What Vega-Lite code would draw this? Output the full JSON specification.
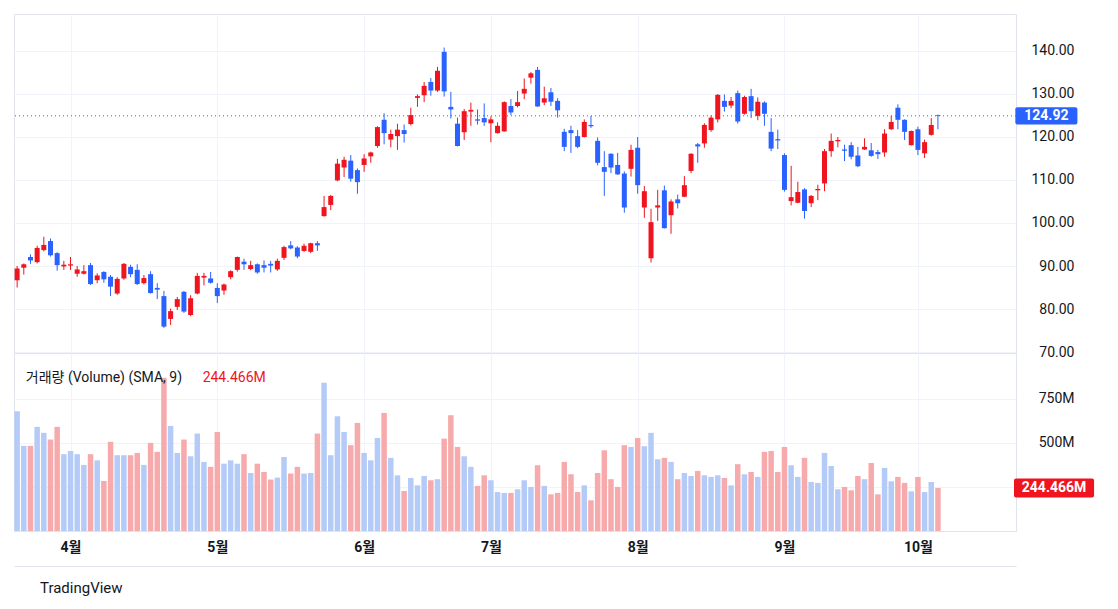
{
  "$schema": "https://vega.github.io/schema/vega-lite/v6.json",
  "padding": {"left": 13, "top": 13, "right": 0, "bottom": 0},
  "background": "white",
  "bounds": "flush",
  "spacing": 0,
  "config": {
    "font": "Roboto, Noto Sans CJK KR, sans-serif",
    "view": {"stroke": "#e0e3eb"},
    "axis": {"gridColor": "#f0f3fa", "labelColor": "#131722", "labelFontSize": 14, "ticks": false, "domain": false, "title": null, "labelFont": "Roboto, Noto Sans CJK KR, sans-serif"}
  },
  "title": {"text": "TradingView", "orient": "bottom", "anchor": "start", "offset": 14, "fontSize": 15, "fontWeight": "normal", "color": "#131722", "dx": 27, "font": "Roboto, sans-serif"},
  "datasets": {
    "ohlc": [
      {"i":0,"o":86.7,"h":90.0,"l":85.0,"c":89.4,"v":680},
      {"i":1,"o":89.6,"h":90.6,"l":88.0,"c":90.4,"v":483},
      {"i":2,"o":92.1,"h":92.7,"l":90.5,"c":91.3,"v":483},
      {"i":3,"o":90.9,"h":94.7,"l":90.6,"c":94.2,"v":591},
      {"i":4,"o":93.7,"h":96.8,"l":93.4,"c":94.9,"v":557},
      {"i":5,"o":95.8,"h":96.4,"l":92.2,"c":92.5,"v":519},
      {"i":6,"o":93.0,"h":93.2,"l":88.9,"c":90.2,"v":591},
      {"i":7,"o":89.9,"h":91.2,"l":89.1,"c":90.3,"v":436},
      {"i":8,"o":90.1,"h":92.1,"l":89.1,"c":90.4,"v":454},
      {"i":9,"o":88.2,"h":90.0,"l":87.5,"c":89.2,"v":436},
      {"i":10,"o":88.2,"h":90.2,"l":88.0,"c":88.8,"v":375},
      {"i":11,"o":90.2,"h":90.7,"l":85.6,"c":85.8,"v":436},
      {"i":12,"o":86.7,"h":88.3,"l":86.0,"c":87.8,"v":401},
      {"i":13,"o":88.6,"h":88.8,"l":86.1,"c":86.9,"v":284},
      {"i":14,"o":87.5,"h":87.9,"l":83.0,"c":85.2,"v":506},
      {"i":15,"o":83.6,"h":87.4,"l":83.3,"c":87.0,"v":430},
      {"i":16,"o":87.1,"h":90.7,"l":86.8,"c":90.5,"v":430},
      {"i":17,"o":89.8,"h":90.3,"l":87.4,"c":88.1,"v":430},
      {"i":18,"o":89.1,"h":90.4,"l":85.6,"c":85.8,"v":443},
      {"i":19,"o":86.0,"h":87.9,"l":85.7,"c":87.2,"v":375},
      {"i":20,"o":88.1,"h":88.8,"l":83.6,"c":83.7,"v":500},
      {"i":21,"o":84.9,"h":86.0,"l":82.3,"c":84.5,"v":449},
      {"i":22,"o":83.0,"h":84.2,"l":75.6,"c":75.9,"v":870},
      {"i":23,"o":77.7,"h":80.1,"l":76.3,"c":79.5,"v":596},
      {"i":24,"o":80.5,"h":82.8,"l":79.8,"c":82.3,"v":443},
      {"i":25,"o":84.0,"h":84.2,"l":79.1,"c":79.4,"v":519},
      {"i":26,"o":78.6,"h":83.2,"l":78.3,"c":82.5,"v":424},
      {"i":27,"o":83.6,"h":88.4,"l":83.4,"c":87.7,"v":553},
      {"i":28,"o":87.3,"h":88.4,"l":85.5,"c":87.7,"v":392},
      {"i":29,"o":87.1,"h":88.6,"l":85.9,"c":86.1,"v":364},
      {"i":30,"o":84.9,"h":86.0,"l":81.4,"c":83.0,"v":562},
      {"i":31,"o":84.3,"h":85.9,"l":83.3,"c":85.7,"v":382},
      {"i":32,"o":87.4,"h":89.0,"l":86.9,"c":88.8,"v":401},
      {"i":33,"o":89.1,"h":92.2,"l":88.7,"c":92.1,"v":382},
      {"i":34,"o":91.0,"h":91.7,"l":89.1,"c":90.4,"v":436},
      {"i":35,"o":89.3,"h":91.2,"l":89.0,"c":90.2,"v":329},
      {"i":36,"o":90.4,"h":90.6,"l":88.2,"c":88.5,"v":382},
      {"i":37,"o":90.2,"h":91.3,"l":88.5,"c":89.6,"v":335},
      {"i":38,"o":90.5,"h":91.2,"l":88.5,"c":90.1,"v":292},
      {"i":39,"o":89.2,"h":91.7,"l":88.9,"c":91.2,"v":303},
      {"i":40,"o":91.9,"h":94.7,"l":91.4,"c":94.4,"v":420},
      {"i":41,"o":94.8,"h":95.8,"l":93.9,"c":94.1,"v":326},
      {"i":42,"o":94.3,"h":94.6,"l":91.8,"c":92.2,"v":364},
      {"i":43,"o":93.5,"h":95.2,"l":93.3,"c":94.7,"v":326},
      {"i":44,"o":93.3,"h":95.4,"l":93.0,"c":95.3,"v":329},
      {"i":45,"o":95.3,"h":95.8,"l":93.5,"c":94.8,"v":553},
      {"i":46,"o":101.6,"h":106.3,"l":101.5,"c":103.7,"v":841},
      {"i":47,"o":104.2,"h":106.5,"l":103.0,"c":106.3,"v":430},
      {"i":48,"o":109.9,"h":114.9,"l":109.7,"c":113.8,"v":651},
      {"i":49,"o":112.9,"h":115.4,"l":110.7,"c":114.7,"v":562},
      {"i":50,"o":114.5,"h":115.8,"l":109.6,"c":110.3,"v":487},
      {"i":51,"o":112.3,"h":112.7,"l":106.8,"c":109.5,"v":613},
      {"i":52,"o":113.5,"h":116.0,"l":111.9,"c":115.0,"v":443},
      {"i":53,"o":115.5,"h":116.6,"l":114.0,"c":116.4,"v":401},
      {"i":54,"o":117.9,"h":122.5,"l":117.5,"c":122.3,"v":528},
      {"i":55,"o":124.0,"h":125.5,"l":118.3,"c":120.9,"v":670},
      {"i":56,"o":119.4,"h":121.7,"l":117.6,"c":120.7,"v":415},
      {"i":57,"o":120.2,"h":123.1,"l":117.0,"c":121.7,"v":316},
      {"i":58,"o":121.6,"h":122.9,"l":118.7,"c":120.7,"v":227},
      {"i":59,"o":123.0,"h":126.8,"l":122.7,"c":125.1,"v":301},
      {"i":60,"o":129.1,"h":129.9,"l":127.0,"c":129.5,"v":259},
      {"i":61,"o":129.7,"h":132.8,"l":128.1,"c":131.9,"v":312},
      {"i":62,"o":132.8,"h":133.7,"l":129.6,"c":130.8,"v":288},
      {"i":63,"o":130.8,"h":136.3,"l":130.5,"c":135.4,"v":294},
      {"i":64,"o":139.8,"h":140.8,"l":129.4,"c":130.6,"v":524},
      {"i":65,"o":127.0,"h":130.5,"l":124.3,"c":126.4,"v":657},
      {"i":66,"o":123.1,"h":124.5,"l":117.8,"c":117.9,"v":477},
      {"i":67,"o":121.1,"h":126.5,"l":119.3,"c":126.0,"v":424},
      {"i":68,"o":125.9,"h":128.0,"l":122.6,"c":126.3,"v":364},
      {"i":69,"o":124.1,"h":126.4,"l":122.9,"c":123.8,"v":256},
      {"i":70,"o":124.4,"h":127.8,"l":122.6,"c":123.4,"v":316},
      {"i":71,"o":123.2,"h":124.8,"l":118.8,"c":124.1,"v":288},
      {"i":72,"o":120.9,"h":123.4,"l":120.8,"c":122.6,"v":221},
      {"i":73,"o":121.3,"h":128.3,"l":121.2,"c":128.1,"v":216},
      {"i":74,"o":127.2,"h":128.8,"l":125.1,"c":125.7,"v":216},
      {"i":75,"o":127.2,"h":130.7,"l":126.9,"c":128.1,"v":237},
      {"i":76,"o":130.1,"h":133.6,"l":128.8,"c":131.2,"v":288},
      {"i":77,"o":133.8,"h":135.1,"l":132.4,"c":134.8,"v":250},
      {"i":78,"o":135.6,"h":136.3,"l":127.0,"c":127.1,"v":373},
      {"i":79,"o":128.0,"h":131.7,"l":127.4,"c":129.0,"v":256},
      {"i":80,"o":130.4,"h":131.4,"l":127.2,"c":128.2,"v":208},
      {"i":81,"o":128.4,"h":129.0,"l":124.5,"c":126.2,"v":216},
      {"i":82,"o":121.2,"h":121.9,"l":116.7,"c":117.7,"v":392},
      {"i":83,"o":121.6,"h":122.6,"l":116.3,"c":120.9,"v":322},
      {"i":84,"o":120.2,"h":121.6,"l":117.4,"c":117.7,"v":221},
      {"i":85,"o":120.0,"h":124.1,"l":119.9,"c":123.5,"v":259},
      {"i":86,"o":122.8,"h":124.9,"l":122.1,"c":122.5,"v":174},
      {"i":87,"o":119.1,"h":119.9,"l":113.4,"c":114.0,"v":329},
      {"i":88,"o":113.0,"h":116.7,"l":106.3,"c":111.9,"v":458},
      {"i":89,"o":116.1,"h":116.2,"l":111.6,"c":112.9,"v":294},
      {"i":90,"o":113.5,"h":116.3,"l":111.2,"c":111.3,"v":250},
      {"i":91,"o":111.5,"h":112.0,"l":102.4,"c":103.6,"v":487},
      {"i":92,"o":112.6,"h":118.2,"l":110.8,"c":117.0,"v":477},
      {"i":93,"o":117.5,"h":120.0,"l":106.8,"c":108.8,"v":528},
      {"i":94,"o":103.6,"h":108.6,"l":101.2,"c":107.4,"v":481},
      {"i":95,"o":91.8,"h":103.3,"l":90.8,"c":100.2,"v":557},
      {"i":96,"o":103.6,"h":107.7,"l":100.5,"c":104.1,"v":407},
      {"i":97,"o":107.6,"h":108.7,"l":98.7,"c":98.8,"v":415},
      {"i":98,"o":101.8,"h":105.5,"l":97.5,"c":105.0,"v":392},
      {"i":99,"o":105.5,"h":106.6,"l":103.4,"c":104.6,"v":294},
      {"i":100,"o":106.1,"h":110.9,"l":106.0,"c":108.8,"v":329},
      {"i":101,"o":112.1,"h":116.2,"l":111.6,"c":116.1,"v":312},
      {"i":102,"o":118.3,"h":118.6,"l":114.0,"c":117.8,"v":341},
      {"i":103,"o":118.5,"h":123.2,"l":117.5,"c":122.8,"v":316},
      {"i":104,"o":121.6,"h":125.0,"l":121.2,"c":124.5,"v":307},
      {"i":105,"o":124.1,"h":130.0,"l":123.4,"c":129.8,"v":316},
      {"i":106,"o":128.4,"h":129.9,"l":125.9,"c":127.0,"v":301},
      {"i":107,"o":127.3,"h":129.3,"l":126.7,"c":128.4,"v":259},
      {"i":108,"o":130.2,"h":130.8,"l":123.1,"c":123.6,"v":379},
      {"i":109,"o":125.4,"h":129.6,"l":125.2,"c":129.3,"v":322},
      {"i":110,"o":129.5,"h":131.2,"l":124.4,"c":126.0,"v":335},
      {"i":111,"o":124.9,"h":129.2,"l":123.9,"c":128.2,"v":307},
      {"i":112,"o":128.0,"h":128.3,"l":122.6,"c":125.4,"v":449},
      {"i":113,"o":121.2,"h":124.4,"l":116.7,"c":117.3,"v":454},
      {"i":114,"o":119.5,"h":121.7,"l":117.2,"c":119.2,"v":335},
      {"i":115,"o":115.8,"h":116.2,"l":107.3,"c":107.7,"v":477},
      {"i":116,"o":105.1,"h":113.3,"l":104.1,"c":106.0,"v":373},
      {"i":117,"o":104.7,"h":109.6,"l":104.6,"c":107.2,"v":307},
      {"i":118,"o":107.8,"h":108.1,"l":101.0,"c":102.8,"v":415},
      {"i":119,"o":104.6,"h":106.5,"l":103.7,"c":106.3,"v":278},
      {"i":120,"o":107.6,"h":108.9,"l":105.3,"c":107.9,"v":273},
      {"i":121,"o":109.2,"h":117.2,"l":107.4,"c":116.7,"v":443},
      {"i":122,"o":116.7,"h":120.8,"l":115.4,"c":119.1,"v":369},
      {"i":123,"o":119.0,"h":120.0,"l":117.6,"c":119.3,"v":237},
      {"i":124,"o":117.1,"h":118.2,"l":114.4,"c":116.8,"v":250},
      {"i":125,"o":118.1,"h":118.8,"l":114.8,"c":115.4,"v":231},
      {"i":126,"o":115.7,"h":117.7,"l":113.0,"c":113.2,"v":312},
      {"i":127,"o":117.1,"h":119.7,"l":117.0,"c":117.7,"v":294},
      {"i":128,"o":116.9,"h":118.6,"l":115.4,"c":115.6,"v":386},
      {"i":129,"o":116.5,"h":117.0,"l":114.9,"c":116.0,"v":208},
      {"i":130,"o":116.4,"h":121.8,"l":115.4,"c":120.8,"v":358},
      {"i":131,"o":121.8,"h":124.9,"l":121.6,"c":123.5,"v":282},
      {"i":132,"o":126.8,"h":127.6,"l":121.8,"c":124.0,"v":307},
      {"i":133,"o":124.0,"h":124.1,"l":119.3,"c":121.2,"v":273},
      {"i":134,"o":118.1,"h":121.5,"l":118.0,"c":121.4,"v":225},
      {"i":135,"o":121.8,"h":122.4,"l":115.8,"c":117.0,"v":307},
      {"i":136,"o":116.2,"h":119.4,"l":115.1,"c":118.8,"v":221},
      {"i":137,"o":120.5,"h":124.4,"l":120.3,"c":122.8,"v":278},
      {"i":138,"o":125.1,"h":125.2,"l":121.8,"c":124.92,"v":244.466}
    ]
  },
  "vconcat": [
    {
      "width": 1002,
      "height": 339,
      "layer": [
        {
          "data": {"name": "ohlc"},
          "mark": {"type": "rule", "clip": true, "strokeWidth": 1},
          "encoding": {
            "x": {"field": "i", "type": "quantitative", "scale": {"domain": [0.28, 148.95], "nice": false, "zero": false},
              "axis": {"values": [8, 30, 52, 71, 93, 115, 135], "labels": false, "grid": true, "ticks": false, "domain": false, "title": null}},
            "y": {"field": "l", "type": "quantitative", "scale": {"domain": [69.77, 148.6], "nice": false, "zero": false},
              "axis": {"orient": "right", "values": [70, 80, 90, 100, 110, 120, 130, 140], "format": ".2f", "labelAlign": "right", "labelPadding": 58, "grid": true, "title": null}},
            "y2": {"field": "h"},
            "color": {"condition": {"test": "datum.c < datum.o", "value": "#2962ff"}, "value": "#f0141e"}
          }
        },
        {
          "data": {"name": "ohlc"},
          "mark": {"type": "bar", "size": 5, "clip": true},
          "encoding": {
            "x": {"field": "i", "type": "quantitative"},
            "y": {"field": "o", "type": "quantitative"},
            "y2": {"field": "c"},
            "color": {"condition": {"test": "datum.c < datum.o", "value": "#2962ff"}, "value": "#f0141e"}
          }
        },
        {
          "data": {"values": [{"price": 124.92}]},
          "mark": {"type": "rule", "color": "#2962ff", "strokeDash": [1, 3], "strokeWidth": 1},
          "encoding": {"y": {"field": "price", "type": "quantitative"}}
        },
        {
          "data": {"values": [{"label": "124.92"}]},
          "mark": {"type": "rect", "color": "#2962ff", "cornerRadius": 2},
          "encoding": {"x": {"datum": 149.6}, "x2": {"datum": 158.9}, "y": {"datum": 122.9}, "y2": {"datum": 126.9}}
        },
        {
          "data": {"values": [{"label": "124.92"}]},
          "mark": {"type": "text", "color": "white", "fontSize": 14, "fontWeight": "bold", "align": "center", "baseline": "middle"},
          "encoding": {"x": {"datum": 154.25}, "y": {"datum": 124.92}, "text": {"field": "label"}}
        }
      ]
    },
    {
      "width": 1002,
      "height": 178,
      "layer": [
        {
          "data": {"name": "ohlc"},
          "mark": {"type": "bar", "size": 5.5, "clip": true},
          "encoding": {
            "x": {"field": "i", "type": "quantitative", "scale": {"domain": [0.28, 148.95], "nice": false, "zero": false},
              "axis": {"values": [8, 30, 52, 71, 93, 115, 135], "grid": true, "ticks": false, "domain": true, "domainColor": "#e0e3eb", "offset": 35, "title": null, "labelPadding": -26, "labelFontSize": 14, "labelFontWeight": "bold", "labelFlush": false,
                "labelExpr": "datum.value == 8 ? '4월' : datum.value == 30 ? '5월' : datum.value == 52 ? '6월' : datum.value == 71 ? '7월' : datum.value == 93 ? '8월' : datum.value == 115 ? '9월' : '10월'"}},
            "y": {"field": "v", "type": "quantitative", "scale": {"domain": [0, 1010], "nice": false, "zero": true},
              "axis": {"orient": "right", "values": [250, 500, 750], "labelExpr": "datum.value == 250 ? '' : datum.value + 'M'", "labelAlign": "right", "labelPadding": 58, "grid": true, "title": null}},
            "color": {"condition": {"test": "datum.c < datum.o", "value": "#f7aaab"}, "value": "#b5cbf7"}
          }
        },
        {
          "data": {"values": [{"label": "거래량 (Volume) (SMA, 9)"}]},
          "mark": {"type": "text", "color": "#131722", "fontSize": 14, "align": "left", "baseline": "middle"},
          "encoding": {"x": {"datum": 1.3}, "y": {"datum": 868}, "text": {"field": "label"}}
        },
        {
          "data": {"values": [{"label": "244.466M"}]},
          "mark": {"type": "text", "color": "#f0141e", "fontSize": 14, "align": "left", "baseline": "middle"},
          "encoding": {"x": {"datum": 27.8}, "y": {"datum": 868}, "text": {"field": "label"}}
        },
        {
          "data": {"values": [{"label": "244.466M"}]},
          "mark": {"type": "rect", "color": "#f0141e", "cornerRadius": 2},
          "encoding": {"x": {"datum": 149.4}, "x2": {"datum": 161.4}, "y": {"datum": 190}, "y2": {"datum": 298}}
        },
        {
          "data": {"values": [{"label": "244.466M"}]},
          "mark": {"type": "text", "color": "white", "fontSize": 14, "fontWeight": "bold", "align": "center", "baseline": "middle"},
          "encoding": {"x": {"datum": 155.4}, "y": {"datum": 244.466}, "text": {"field": "label"}}
        }
      ]
    }
  ]
}
